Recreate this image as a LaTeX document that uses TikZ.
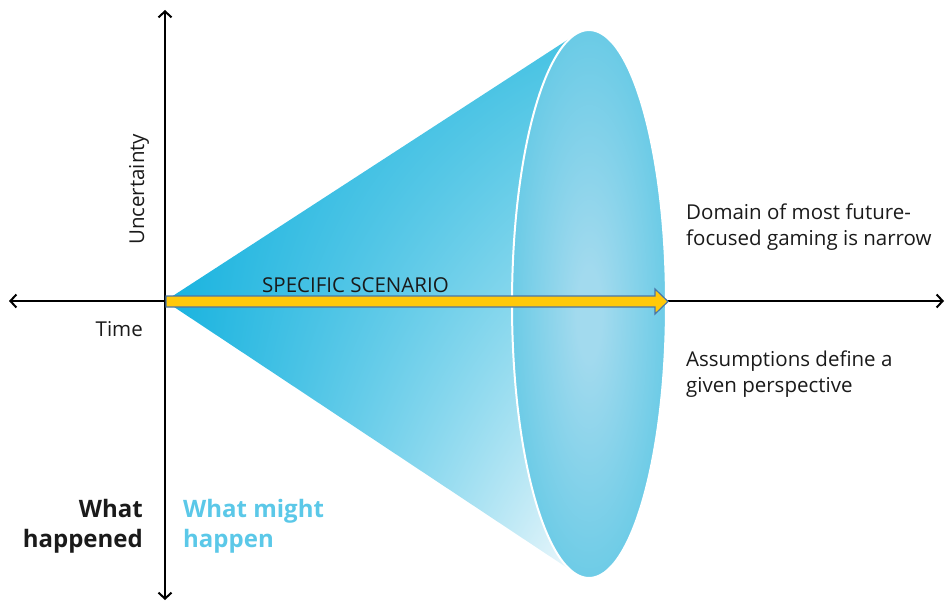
\documentclass[tikz,border=0pt]{standalone}
\usepackage{fontspec}
\setmainfont{Open Sans}
\usetikzlibrary{arrows.meta,shadings}
\definecolor{conedark}{HTML}{18B3DF}
\definecolor{coneur}{HTML}{48C3E3}
\definecolor{conelr}{HTML}{EEF8FC}
\definecolor{ellout}{HTML}{55C5E3}
\definecolor{ellin}{HTML}{A2DAEE}
\definecolor{arrowfill}{HTML}{FFC90A}
\definecolor{arrowline}{HTML}{4A76A6}
\definecolor{mightblue}{HTML}{5BC8E8}
\definecolor{txt}{HTML}{1A1A1A}
\pgfdeclareradialshading{ellshade}{\pgfpoint{0bp}{-1bp}}{color(0bp)=(ellin); color(4bp)=(ellin); color(34bp)=(ellout); color(100bp)=(ellout)}
\tikzset{
  axisline/.style={line width=2pt, draw=black, -{Straight Barb[length=6pt,width=13pt,line width=2pt]}},
  plain/.style={font=\fontsize{20.5}{26}\selectfont, text=txt, inner sep=0pt, align=left},
  bigbold/.style={font=\fontsize{24}{30}\selectfont\bfseries, inner sep=0pt},
}
\begin{document}
\begin{tikzpicture}[x=1pt,y=-1pt]
\useasboundingbox (0,0) rectangle (947,602);
% key points
\coordinate (O) at (165,301);
\coordinate (C) at (589,304);
\coordinate (T1) at (575,35);
\coordinate (T2) at (575,573);
\coordinate (top) at (165,10);
\coordinate (bot) at (165,600);
\coordinate (lft) at (9,301);
\coordinate (rgt) at (944,301);
% cone
\shade[upper left=conedark, lower left=conedark, upper right=coneur, lower right=conelr]
  (O) -- (T1) -- (T2) -- cycle;
% ellipse face
\shade[shading=ellshade, draw=white, line width=2pt]
  (C) ellipse [x radius=77pt, y radius=274pt];
% axes
\draw[axisline] (O) -- (top);
\draw[axisline] (O) -- (bot);
\draw[axisline] (O) -- (lft);
\draw[axisline] (O) -- (rgt);
% scenario arrow
\draw[fill=arrowfill, draw=arrowline, line width=1.2pt, line join=miter]
  (166,296) -- (655,296) -- (655,289) -- (668,301.5) -- (655,314) -- (655,307) -- (166,307) -- cycle;
\node[plain, anchor=base west] (scen) at (262,292) {SPECIFIC SCENARIO};
% labels
\node[plain, anchor=base east] (time) at (143,336) {Time};
\node[plain, anchor=base west, rotate=90] (unc) at (144,245) {Uncertainty};
\node[plain, anchor=base west] (dom) at (686,245) {Domain of most future-\\focused gaming is narrow};
\node[plain, anchor=base west] (ass) at (686,392) {Assumptions define a\\given perspective};
\node[bigbold, anchor=base east, align=right, text=txt] (hap) at (143,547) {What\\happened};
\node[bigbold, anchor=base west, align=left, text=mightblue] (might) at (183,547) {What might\\happen};
\end{tikzpicture}
\end{document}
